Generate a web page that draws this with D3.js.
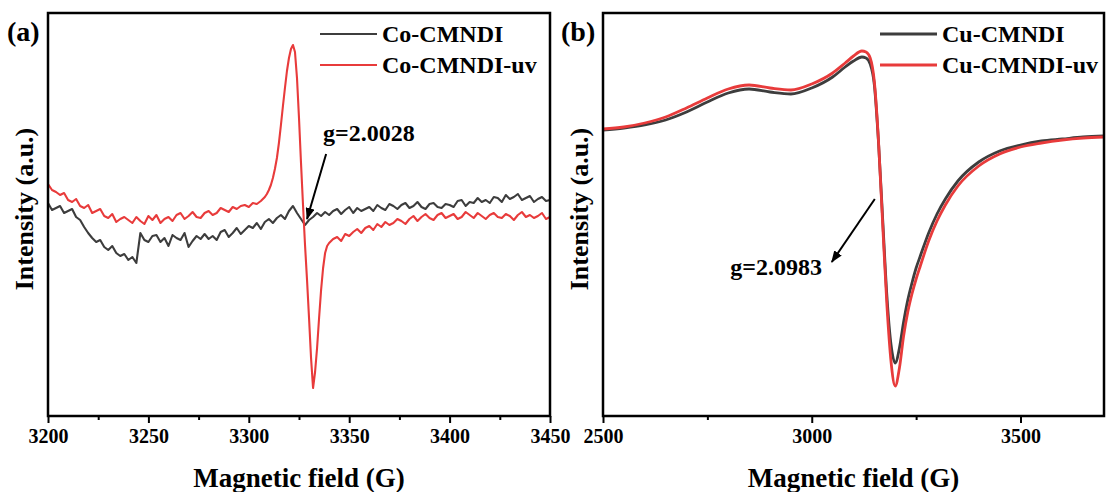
<!DOCTYPE html>
<html>
<head>
<meta charset="utf-8">
<script src="https://cdn.jsdelivr.net/npm/d3@7"></script>
<style>
  html, body { margin: 0; background: #fff; }
  svg { display: block; }
</style>
</head>
<body>
<div id="chart"></div>
<script>
(function () {
  'use strict';

  const FONT = '"Liberation Serif", "Times New Roman", Times, serif';
  const GRAY = '#3d3d3d';
  const RED  = '#e83b3b';
  const W = 1106, H = 492;
  const TOP = 13, BOTTOM = 416;

  // (a) Co-CMNDI, field in G, intensity in a.u.
  const coField = [
    3200, 3202, 3204, 3206, 3208, 3210, 3212, 3214, 3216, 3218,
    3220, 3222, 3224, 3226, 3228, 3230, 3232, 3234, 3236, 3238,
    3240, 3242, 3244, 3246, 3248, 3250, 3252, 3254, 3256, 3258,
    3260, 3262, 3264, 3266, 3268, 3270, 3272, 3274, 3276, 3278,
    3280, 3282, 3284, 3286, 3288, 3290, 3292, 3294, 3296, 3298,
    3300, 3302, 3304, 3306, 3308, 3310, 3312, 3314, 3316, 3318,
    3320, 3322, 3324, 3326, 3328, 3330, 3332, 3334, 3336, 3338,
    3340, 3342, 3344, 3346, 3348, 3350, 3352, 3354, 3356, 3358,
    3360, 3362, 3364, 3366, 3368, 3370, 3372, 3374, 3376, 3378,
    3380, 3382, 3384, 3386, 3388, 3390, 3392, 3394, 3396, 3398,
    3400, 3402, 3404, 3406, 3408, 3410, 3412, 3414, 3416, 3418,
    3420, 3422, 3424, 3426, 3428, 3430, 3432, 3434, 3436, 3438,
    3440, 3442, 3444, 3446, 3448, 3450
  ];
  const coDark = [
    213, 206, 208, 210, 203, 205, 207, 199, 196, 189,
    183, 178, 174, 176, 169, 166, 170, 163, 160, 162,
    156, 159, 153, 183, 176, 174, 180, 181, 174, 178,
    170, 181, 178, 176, 183, 169, 175, 180, 177, 182,
    177, 180, 176, 184, 186, 179, 183, 188, 182, 186,
    190, 188, 193, 187, 194, 197, 193, 198, 201, 197,
    205, 210, 203, 197, 191, 196, 199, 203, 200, 204,
    201, 205, 207, 202, 206, 209, 203, 208, 205, 207,
    209, 205, 211, 208, 206, 212, 210, 207, 211, 213,
    208, 210, 214, 209, 207, 212, 213, 209, 208, 212,
    211, 209, 215, 216, 210, 214, 213, 218, 214, 216,
    213, 219, 218, 214, 221, 217, 219, 222, 216, 218,
    220, 214, 217, 219, 215, 216
  ];

  // (a) Co-CMNDI-uv
  const coUvField = [
    3200, 3202, 3204, 3206, 3208, 3210, 3212, 3214, 3216, 3218,
    3220, 3222, 3224, 3226, 3228, 3230, 3232, 3234, 3236, 3238,
    3240, 3242, 3244, 3246, 3248, 3250, 3252, 3254, 3256, 3258,
    3260, 3262, 3264, 3266, 3268, 3270, 3272, 3274, 3276, 3278,
    3280, 3282, 3284, 3286, 3288, 3290, 3292, 3294, 3296, 3298,
    3300, 3302, 3304, 3306, 3308,
    3309, 3310, 3311, 3312, 3313, 3314, 3315, 3316, 3317, 3318,
    3319, 3320, 3321, 3322, 3323, 3324, 3325, 3326, 3327, 3328,
    3329, 3330, 3331, 3332, 3333, 3334, 3335, 3336, 3337, 3338,
    3339,
    3340, 3342, 3344, 3346, 3348, 3350, 3352, 3354, 3356, 3358,
    3360, 3362, 3364, 3366, 3368, 3370, 3372, 3374, 3376, 3378,
    3380, 3382, 3384, 3386, 3388, 3390, 3392, 3394, 3396, 3398,
    3400, 3402, 3404, 3406, 3408, 3410, 3412, 3414, 3416, 3418,
    3420, 3422, 3424, 3426, 3428, 3430, 3432, 3434, 3436, 3438,
    3440, 3442, 3444, 3446, 3448, 3450
  ];
  const coUv = [
    232, 226, 224, 221, 223, 216, 214, 217, 210, 208,
    211, 203, 205, 207, 200, 198, 202, 194, 197, 199,
    196, 193, 199, 195, 192, 200, 196, 201, 193, 197,
    199, 195, 201, 203, 197, 200, 204, 199, 198, 203,
    205, 201, 203, 208, 206, 204, 209, 207, 210, 211,
    209, 213, 212, 215, 219,
    222, 226, 231, 238, 247, 258, 273, 291, 310, 328,
    345, 358, 367, 371, 364, 338, 298, 253, 211, 171,
    136, 98, 58, 28, 44, 68, 98, 126, 148, 163,
    170,
    173, 177, 179, 175, 182, 180, 184, 187, 183, 188,
    190, 186, 192, 189, 194, 191, 193, 197, 195, 192,
    197, 200, 195, 199, 202, 198, 196, 201, 203, 198,
    200, 202, 197, 199, 204, 201, 198, 203, 200, 197,
    201, 203, 199, 198, 202, 200, 196, 201, 204, 199,
    201, 198, 200, 203, 197, 199
  ];

  // (b) Cu-CMNDI / Cu-CMNDI-uv
  const cuField = [
    2500, 2550, 2600, 2650, 2700, 2750, 2800, 2850, 2900, 2950,
    3000, 3050, 3080, 3100, 3120, 3130, 3140, 3150, 3160, 3170,
    3180, 3190, 3200, 3210, 3220, 3230, 3240, 3250, 3260, 3280,
    3300, 3320, 3350, 3400, 3450, 3500, 3550, 3600, 3650, 3700
  ];
  const cuDark = [
    286, 288, 291, 296, 304, 314, 323, 327, 324, 322,
    328, 339, 349, 355, 359, 358, 352, 331, 273, 196,
    120, 71, 53, 68, 94, 116, 133, 148, 160, 183,
    202, 217, 235, 254, 265, 271, 275, 277, 279, 280
  ];
  const cuUv = [
    287, 289, 293, 299, 308, 318, 327, 331, 328, 326,
    332, 343, 353, 360, 365, 364, 358, 334, 274, 191,
    111, 54, 30, 48, 80, 104, 122, 137, 150, 175,
    195, 211, 230, 250, 262, 269, 273, 276, 278, 279
  ];

  const panels = [
    {
      tag: '(a)', tagX: 7, ylabX: 24,
      x0: 48, x1: 550, domain: [3200, 3450],
      major: [3200, 3250, 3300, 3350, 3400, 3450],
      minor: [3225, 3275, 3325, 3375, 3425],
      curve: d3.curveLinear, lw: 2.1,
      series: [
        { name: 'Co-CMNDI',    color: GRAY, x: coField,   y: coDark },
        { name: 'Co-CMNDI-uv', color: RED,  x: coUvField, y: coUv }
      ],
      legendX: 320,
      note: { text: 'g=2.0028', at: [3337, 275], from: [3338.5, 262], to: [3329, 197] }
    },
    {
      tag: '(b)', tagX: 561, ylabX: 579,
      x0: 603, x1: 1104, domain: [2500, 3700],
      major: [2500, 3000, 3500],
      minor: [2750, 3250],
      curve: d3.curveMonotoneX, lw: 2.8,
      series: [
        { name: 'Cu-CMNDI',    color: GRAY, x: cuField, y: cuDark },
        { name: 'Cu-CMNDI-uv', color: RED,  x: cuField, y: cuUv }
      ],
      legendX: 880,
      note: { text: 'g=2.0983', at: [2805, 141], from: [3151, 217], to: [3048, 154] }
    }
  ];

  const svg = d3.select('#chart').append('svg')
    .attr('width', W).attr('height', H)
    .attr('font-family', FONT)
    .attr('font-weight', 'bold');

  svg.append('rect').attr('width', W).attr('height', H).attr('fill', '#fff');

  svg.append('defs').append('marker')
    .attr('id', 'arrow')
    .attr('markerUnits', 'userSpaceOnUse')
    .attr('markerWidth', 12).attr('markerHeight', 9)
    .attr('refX', 11).attr('refY', 4.5)
    .attr('orient', 'auto')
    .append('path').attr('d', 'M0,0 L12,4.5 L0,9 Z').attr('fill', '#000');

  const y = d3.scaleLinear().domain([0, 403]).range([BOTTOM, TOP]);

  panels.forEach(p => {
    const x = d3.scaleLinear().domain(p.domain).range([p.x0, p.x1]);
    const g = svg.append('g');

    // Curves
    const line = d3.line().x(d => x(d[0])).y(d => y(d[1])).curve(p.curve);
    p.series.forEach(s => {
      g.append('path')
        .datum(s.x.map((v, i) => [v, s.y[i]]))
        .attr('d', line)
        .attr('fill', 'none')
        .attr('stroke', s.color)
        .attr('stroke-width', p.lw)
        .attr('stroke-linejoin', 'round');
    });

    // Axes: major + minor ticks, outward
    const ax = g.append('g').attr('transform', `translate(0,${BOTTOM})`)
      .call(d3.axisBottom(x).tickValues(p.major).tickSize(7).tickPadding(6)
        .tickFormat(d3.format('d')).tickSizeOuter(0));
    ax.select('.domain').remove();
    ax.selectAll('line').attr('stroke', '#000').attr('stroke-width', 2);
    ax.selectAll('text')
      .attr('font-family', FONT).attr('font-weight', 'bold')
      .attr('font-size', 20).attr('fill', '#000');

    const mx = g.append('g').attr('transform', `translate(0,${BOTTOM})`)
      .call(d3.axisBottom(x).tickValues(p.minor).tickSize(4).tickFormat(''));
    mx.select('.domain').remove();
    mx.selectAll('line').attr('stroke', '#000').attr('stroke-width', 2);

    // Frame
    g.append('rect')
      .attr('x', p.x0).attr('y', TOP)
      .attr('width', p.x1 - p.x0).attr('height', BOTTOM - TOP)
      .attr('fill', 'none').attr('stroke', '#000').attr('stroke-width', 2.5);

    // Axis titles
    g.append('text')
      .attr('x', (p.x0 + p.x1) / 2).attr('y', 487)
      .attr('text-anchor', 'middle').attr('font-size', 27)
      .text('Magnetic field (G)');
    g.append('text')
      .attr('transform', `translate(${p.ylabX},209) rotate(-90)`)
      .attr('text-anchor', 'middle').attr('dominant-baseline', 'central')
      .attr('font-size', 26)
      .text('Intensity (a.u.)');

    // Panel tag
    g.append('text')
      .attr('x', p.tagX).attr('y', 41)
      .attr('font-size', 28)
      .text(p.tag);

    // Legend
    p.series.forEach((s, i) => {
      const ly = 34 + i * 31;
      g.append('line')
        .attr('x1', p.legendX).attr('x2', p.legendX + 57)
        .attr('y1', ly).attr('y2', ly)
        .attr('stroke', s.color).attr('stroke-width', p.lw);
      g.append('text')
        .attr('x', p.legendX + 62).attr('y', ly)
        .attr('dominant-baseline', 'central')
        .attr('font-size', 24)
        .text(s.name);
    });

    // g-value annotation
    const n = p.note;
    g.append('text')
      .attr('x', x(n.at[0])).attr('y', y(n.at[1]))
      .attr('font-size', 24)
      .text(n.text);
    g.append('line')
      .attr('x1', x(n.from[0])).attr('y1', y(n.from[1]))
      .attr('x2', x(n.to[0])).attr('y2', y(n.to[1]))
      .attr('stroke', '#000').attr('stroke-width', 2)
      .attr('marker-end', 'url(#arrow)');
  });
})();
</script>
</body>
</html>
